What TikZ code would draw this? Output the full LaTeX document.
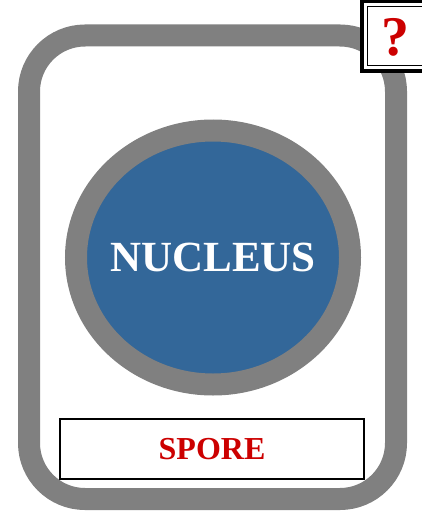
\documentclass[tikz,border=0pt]{standalone}
\usepackage{fontspec}
\setmainfont{Liberation Serif}
\definecolor{ringgray}{HTML}{808080}
\definecolor{nucblue}{HTML}{336799}
\definecolor{spred}{HTML}{CC0000}
\begin{document}
\begin{tikzpicture}[x=1pt,y=-1pt,
  ring/.style={draw=ringgray,line width=22pt},
  labelbox/.style={draw=black,line width=1.6pt,fill=white,minimum width=304pt,minimum height=60pt,inner sep=0pt},
]
\useasboundingbox (0,0) rectangle (422,511);
% outer card
\draw[ring,rounded corners=56pt] (29,35.5) rectangle (396,499);
% nucleus
\draw[ring,fill=nucblue] (213,257.5) ellipse [x radius=137pt, y radius=127pt];
\node[font=\bfseries\fontsize{43}{43}\selectfont,text=white] (nuc) at (213,257.5) {NUCLEUS};
% spore label
\node[labelbox] (spore) at (212,449) {};
\node[font=\bfseries\fontsize{32}{32}\selectfont,text=spred] (sporetxt) at (spore.center) {SPORE};
% question box
\draw[fill=white,line width=4pt] (362,1) rectangle (426,70.5);
\draw[line width=1pt] (367.5,7) rectangle (426,65.5);
\node[font=\bfseries\fontsize{56}{56}\selectfont,text=spred] (q) at (395.5,37.5) {?};
\end{tikzpicture}
\end{document}
